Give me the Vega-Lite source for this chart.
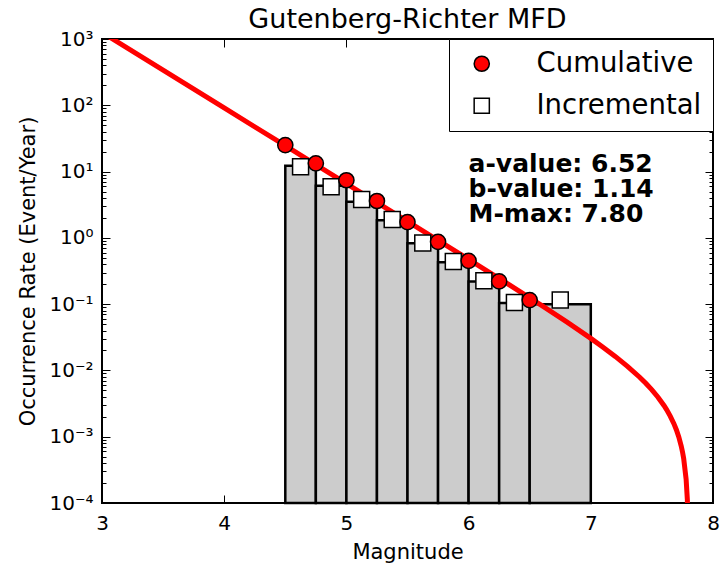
{
  "$schema": "https://vega.github.io/schema/vega-lite/v6.json",
  "width": 611,
  "height": 464,
  "autosize": {"type": "none"},
  "padding": {"left": 102, "top": 39, "right": 7, "bottom": 64},
  "background": "white",
  "title": {"text": "Gutenberg-Richter MFD", "fontSize": 27, "font": "DejaVu Sans", "fontWeight": "normal", "color": "black", "offset": 8, "dy": 13, "anchor": "middle"},
  "config": {
    "view": {"stroke": "black", "strokeWidth": 2},
    "font": "DejaVu Sans",
    "axis": {"grid": false, "domain": false, "tickColor": "black", "tickWidth": 1, "labelColor": "black", "titleColor": "black", "labelFont": "DejaVu Sans", "titleFont": "DejaVu Sans", "labelFontSize": 20, "titleFontSize": 21, "titleFontWeight": "normal", "labelFlush": false, "labelOverlap": false},
    "legend": {"orient": "top-right", "offset": 0, "labelFontSize": 27.5, "labelFont": "DejaVu Sans", "labelColor": "black", "labelLimit": 400, "symbolSize": 230, "symbolStrokeColor": "black", "symbolStrokeWidth": 1.5, "strokeColor": "black", "fillColor": "white", "padding": 11, "rowPadding": 13, "labelOffset": 41, "symbolOffset": 8, "cornerRadius": 0}
  },
  "datasets": {
    "bars": [
      {"m0": 4.5, "m1": 4.75, "rate": 12.2},
      {"m0": 4.75, "m1": 5.0, "rate": 6.1},
      {"m0": 5.0, "m1": 5.25, "rate": 3.5},
      {"m0": 5.25, "m1": 5.5, "rate": 1.85},
      {"m0": 5.5, "m1": 5.75, "rate": 0.83},
      {"m0": 5.75, "m1": 6.0, "rate": 0.43},
      {"m0": 6.0, "m1": 6.25, "rate": 0.22},
      {"m0": 6.25, "m1": 6.5, "rate": 0.104},
      {"m0": 6.5, "m1": 7.0, "rate": 0.1}
    ],
    "curve": [
      {"M": 3.0, "N": 1258.9},
      {"M": 3.5, "N": 338.8},
      {"M": 4.0, "N": 91.2},
      {"M": 4.5, "N": 24.54},
      {"M": 5.0, "N": 6.603},
      {"M": 5.5, "N": 1.774},
      {"M": 6.0, "N": 0.4744},
      {"M": 6.3, "N": 0.2135},
      {"M": 6.6, "N": 0.0948},
      {"M": 6.8, "N": 0.05437},
      {"M": 7.0, "N": 0.03043},
      {"M": 7.1, "N": 0.02242},
      {"M": 7.2, "N": 0.01627},
      {"M": 7.3, "N": 0.01153},
      {"M": 7.4, "N": 0.007888},
      {"M": 7.45, "N": 0.006395},
      {"M": 7.5, "N": 0.005087},
      {"M": 7.55, "N": 0.003939},
      {"M": 7.6, "N": 0.002932},
      {"M": 7.62, "N": 0.002565},
      {"M": 7.65, "N": 0.002049},
      {"M": 7.68, "N": 0.001573},
      {"M": 7.7, "N": 0.001275},
      {"M": 7.72, "N": 0.000992},
      {"M": 7.74, "N": 0.000724},
      {"M": 7.75, "N": 0.000596},
      {"M": 7.76, "N": 0.000470},
      {"M": 7.78, "N": 0.000229},
      {"M": 7.79, "N": 0.000113},
      {"M": 7.795, "N": 0.000056}
    ],
    "cum": [
      {"M": 4.5, "N": 25.1, "series": "Cumulative"},
      {"M": 4.75, "N": 13.3, "series": "Cumulative"},
      {"M": 5.0, "N": 7.4, "series": "Cumulative"},
      {"M": 5.25, "N": 3.6, "series": "Cumulative"},
      {"M": 5.5, "N": 1.73, "series": "Cumulative"},
      {"M": 5.75, "N": 0.87, "series": "Cumulative"},
      {"M": 6.0, "N": 0.45, "series": "Cumulative"},
      {"M": 6.25, "N": 0.22, "series": "Cumulative"},
      {"M": 6.5, "N": 0.115, "series": "Cumulative"}
    ],
    "inc": [
      {"M": 4.625, "N": 11.8, "series": "Incremental"},
      {"M": 4.875, "N": 5.9, "series": "Incremental"},
      {"M": 5.125, "N": 3.8, "series": "Incremental"},
      {"M": 5.375, "N": 1.9, "series": "Incremental"},
      {"M": 5.625, "N": 0.84, "series": "Incremental"},
      {"M": 5.875, "N": 0.44, "series": "Incremental"},
      {"M": 6.125, "N": 0.225, "series": "Incremental"},
      {"M": 6.375, "N": 0.106, "series": "Incremental"},
      {"M": 6.75, "N": 0.115, "series": "Incremental"}
    ],
    "notes": [
      {"M": 6.0, "N": 10, "t": "a-value: 6.52"},
      {"M": 6.0, "N": 4.2, "t": "b-value: 1.14"},
      {"M": 6.0, "N": 1.76, "t": "M-max: 7.80"}
    ]
  },
  "layer": [
    {
      "data": {"name": "bars"},
      "mark": {"type": "bar", "fill": "#cccccc", "stroke": "black", "strokeWidth": 2.5},
      "encoding": {
        "x": {"field": "m0", "type": "quantitative", "scale": {"domain": [3, 8], "nice": false, "zero": false},
          "axis": {"orient": "bottom", "values": [3, 4, 5, 6, 7, 8], "format": "d", "tickSize": -8, "labelPadding": 18, "title": "Magnitude", "titlePadding": 8}},
        "x2": {"field": "m1"},
        "y": {"field": "rate", "type": "quantitative", "scale": {"type": "log", "domain": [0.0001, 1000], "nice": false},
          "axis": {"orient": "left", "title": "Occurrence Rate (Event/Year)", "titlePadding": 10, "labelPadding": 17,
            "values": [0.0001, 0.0002, 0.0003, 0.0004, 0.0005, 0.0006, 0.0007, 0.0008, 0.0009, 0.001, 0.002, 0.003, 0.004, 0.005, 0.006, 0.007, 0.008, 0.009, 0.01, 0.02, 0.03, 0.04, 0.05, 0.06, 0.07, 0.08, 0.09, 0.1, 0.2, 0.3, 0.4, 0.5, 0.6, 0.7, 0.8, 0.9, 1, 2, 3, 4, 5, 6, 7, 8, 9, 10, 20, 30, 40, 50, 60, 70, 80, 90, 100, 200, 300, 400, 500, 600, 700, 800, 900, 1000],
            "tickSize": {"condition": {"test": "abs(log(datum.value)/LN10 - round(log(datum.value)/LN10)) < 0.000001", "value": -8}, "value": -4},
            "labelExpr": "abs(log(datum.value)/LN10 - round(log(datum.value)/LN10)) < 0.000001 ? '10' + ['⁻⁴','⁻³','⁻²','⁻¹','⁰','¹','²','³'][round(log(datum.value)/LN10) + 4] : ''"}},
        "y2": {"datum": 0.0001}
      }
    },
    {
      "data": {"name": "curve"},
      "mark": {"type": "line", "color": "#ff0000", "strokeWidth": 5, "clip": true},
      "encoding": {
        "x": {"field": "M", "type": "quantitative", "axis": {"orient": "top", "values": [3, 4, 5, 6, 7, 8], "tickSize": -8, "labels": false, "title": null}},
        "y": {"field": "N", "type": "quantitative", "axis": {"orient": "right", "labels": false, "title": null,
            "values": [0.0001, 0.0002, 0.0003, 0.0004, 0.0005, 0.0006, 0.0007, 0.0008, 0.0009, 0.001, 0.002, 0.003, 0.004, 0.005, 0.006, 0.007, 0.008, 0.009, 0.01, 0.02, 0.03, 0.04, 0.05, 0.06, 0.07, 0.08, 0.09, 0.1, 0.2, 0.3, 0.4, 0.5, 0.6, 0.7, 0.8, 0.9, 1, 2, 3, 4, 5, 6, 7, 8, 9, 10, 20, 30, 40, 50, 60, 70, 80, 90, 100, 200, 300, 400, 500, 600, 700, 800, 900, 1000],
            "tickSize": {"condition": {"test": "abs(log(datum.value)/LN10 - round(log(datum.value)/LN10)) < 0.000001", "value": -8}, "value": -4}}}
      }
    },
    {
      "data": {"name": "inc"},
      "mark": {"type": "point", "filled": true, "strokeWidth": 1.5, "size": 256, "opacity": 1},
      "encoding": {
        "x": {"field": "M", "type": "quantitative", "axis": null},
        "y": {"field": "N", "type": "quantitative", "axis": null},
        "shape": {"field": "series", "type": "nominal", "scale": {"domain": ["Cumulative", "Incremental"], "range": ["circle", "square"]}, "legend": {"title": null}},
        "fill": {"field": "series", "type": "nominal", "scale": {"domain": ["Cumulative", "Incremental"], "range": ["#ff0000", "#ffffff"]}, "legend": {"title": null}},
        "stroke": {"field": "series", "type": "nominal", "scale": {"domain": ["Cumulative", "Incremental"], "range": ["#000000", "#000000"]}, "legend": {"title": null}}
      }
    },
    {
      "data": {"name": "cum"},
      "mark": {"type": "point", "filled": true, "strokeWidth": 1.5, "size": 230, "opacity": 1},
      "encoding": {
        "x": {"field": "M", "type": "quantitative", "axis": null},
        "y": {"field": "N", "type": "quantitative", "axis": null},
        "shape": {"field": "series", "type": "nominal", "legend": {"title": null}},
        "fill": {"field": "series", "type": "nominal", "legend": {"title": null}},
        "stroke": {"field": "series", "type": "nominal", "legend": {"title": null}}
      }
    },
    {
      "data": {"name": "notes"},
      "mark": {"type": "text", "align": "left", "baseline": "alphabetic", "fontSize": 25, "fontWeight": "bold", "font": "DejaVu Sans", "color": "black"},
      "encoding": {
        "x": {"field": "M", "type": "quantitative", "axis": null},
        "y": {"field": "N", "type": "quantitative", "axis": null},
        "text": {"field": "t"}
      }
    }
  ],
  "resolve": {"axis": {"x": "independent", "y": "independent"}}
}
